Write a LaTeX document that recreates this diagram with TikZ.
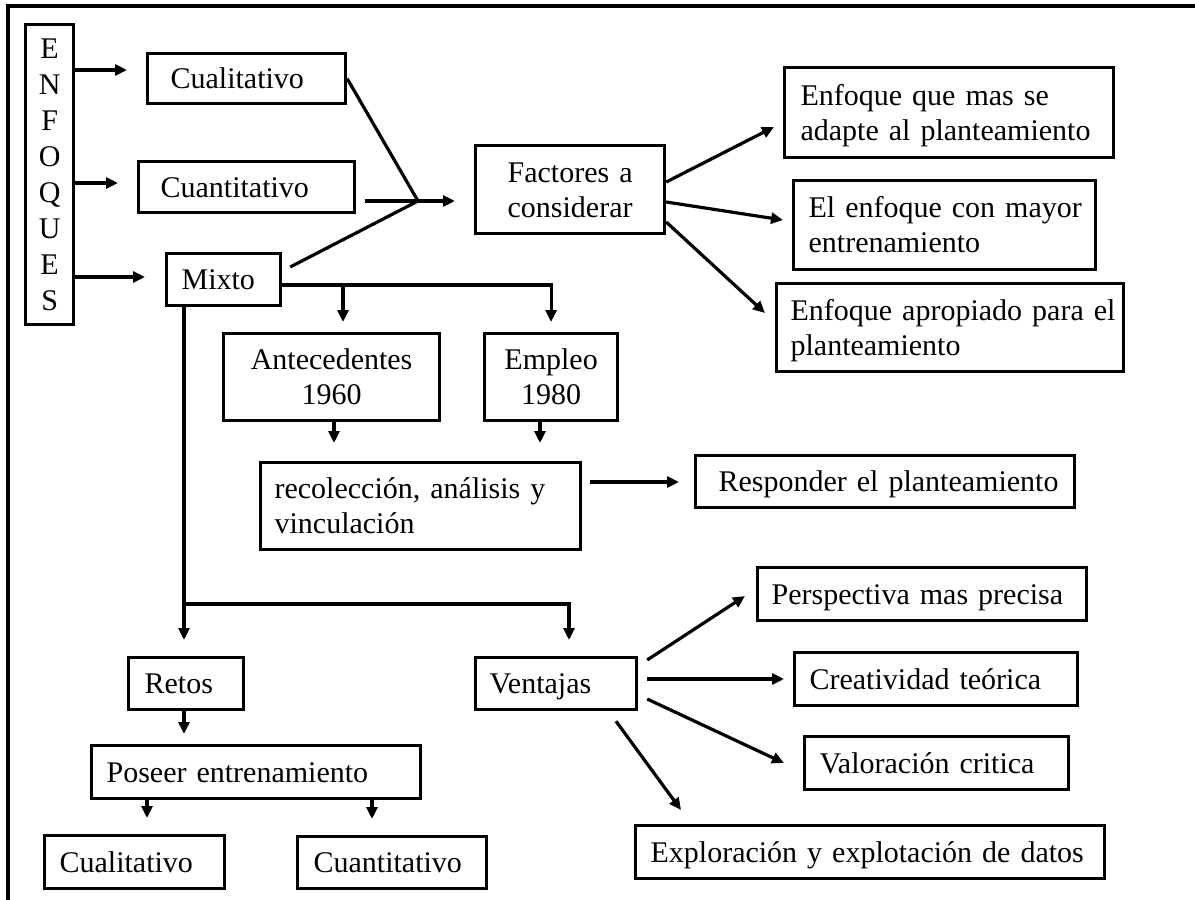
\documentclass[tikz,border=0pt]{standalone}
\usepackage{fontspec}
\setmainfont{Liberation Serif}
\usetikzlibrary{arrows.meta,calc}
\begin{document}
\begin{tikzpicture}[x=1pt,y=-1pt,
  font=\fontsize{30}{35}\selectfont,
  bx/.style={draw, line width=3.2pt, anchor=north west, inner ysep=0pt, align=left},
  cbx/.style={draw, line width=3.2pt, anchor=north west, inner ysep=0pt, inner xsep=0pt, align=center},
  one/.style={text height=20pt, text depth=0pt},
  two/.style={text height=20pt, text depth=35pt},
  arr/.style={line width=3.2pt, -{Triangle[length=12pt,width=11pt]}},
  ln/.style={line width=3.2pt}]
\useasboundingbox (0,0) rectangle (1195,900);
\draw[line width=3.4pt] (8,900) -- (8,6) -- (1195,6);

% left column
\node[cbx, minimum width=48pt, minimum height=300pt, text width=48pt,
      text height=20pt, text depth=252pt, font=\fontsize{30}{36}\selectfont]
      (enf) at (24,23) {E\\N\\F\\O\\Q\\U\\E\\S};
\node[bx, one, minimum width=198pt, minimum height=50pt, text width=152pt, inner xsep=23pt] (cual) at (146,52) {Cualitativo};
\node[bx, one, minimum width=216pt, minimum height=51pt, text width=172pt, inner xsep=22pt] (cuan) at (137,160) {Cuantitativo};
\node[bx, one, minimum width=114pt, minimum height=52pt, text width=84pt, inner xsep=15pt] (mixto) at (165,252) {Mixto};

% factores
\node[cbx, two, minimum width=189pt, minimum height=88pt, text width=189pt] (fact) at (474,144) {Factores a\\considerar};
\node[bx, two, minimum width=329pt, minimum height=90pt, text width=297pt, inner xsep=16pt] (e1) at (783,66) {Enfoque que mas se\\\mbox{adapte al planteamiento}};
\node[bx, two, minimum width=302pt, minimum height=89pt, text width=272pt, inner xsep=15pt] (e2) at (792,179) {\mbox{El enfoque con mayor}\\entrenamiento};
\node[bx, two, minimum width=347pt, minimum height=88pt, text width=319pt, inner xsep=14pt] (e3) at (775,282) {\mbox{Enfoque apropiado para el}\\planteamiento};

% antecedentes / empleo
\node[cbx, two, minimum width=216pt, minimum height=87pt, text width=216pt] (ant) at (222,332) {Antecedentes\\1960};
\node[cbx, two, minimum width=133pt, minimum height=87pt, text width=133pt] (emp) at (483,332) {Empleo\\1980};
\node[bx, two, minimum width=320pt, minimum height=87pt, text width=292pt, inner xsep=14pt] (rec) at (259,461) {recolección, análisis y\\vinculación};
\node[bx, one, minimum width=379pt, minimum height=52pt, text width=333pt, inner xsep=23pt] (resp) at (694,454) {\mbox{Responder el planteamiento}};

% retos
\node[bx, one, minimum width=115pt, minimum height=52pt, text width=83pt, inner xsep=16pt] (retos) at (127,656) {Retos};
\node[bx, one, minimum width=329pt, minimum height=53pt, text width=299pt, inner xsep=15pt] (pos) at (90,744) {Poseer entrenamiento};
\node[bx, one, minimum width=180pt, minimum height=53pt, text width=150pt, inner xsep=15pt] (cual2) at (43,834) {Cualitativo};
\node[bx, one, minimum width=189pt, minimum height=52pt, text width=157pt, inner xsep=16pt] (cuan2) at (296,835) {Cuantitativo};

% ventajas
\node[bx, one, minimum width=161pt, minimum height=52pt, text width=133pt, inner xsep=14pt] (vent) at (474,656) {Ventajas};
\node[bx, one, minimum width=329pt, minimum height=53pt, text width=301pt, inner xsep=14pt] (persp) at (756,566) {Perspectiva mas precisa};
\node[bx, one, minimum width=283pt, minimum height=53pt, text width=253pt, inner xsep=15pt] (crea) at (793,651) {Creatividad teórica};
\node[bx, one, minimum width=264pt, minimum height=53pt, text width=234pt, inner xsep=15pt] (val) at (803,735) {Valoración critica};
\node[bx, one, minimum width=469pt, minimum height=53pt, text width=439pt, inner xsep=15pt] (expl) at (634,824) {Exploración y explotación de datos};

% connectors: enfoques
\coordinate (J) at (418,201);
\draw[arr, shorten >=19pt] (enf.east |- 0,70) -- (cual.west |- 0,70);
\draw[arr, shorten >=19pt] (enf.east |- 0,183) -- (cuan.west |- 0,183);
\draw[arr, shorten >=20pt] (enf.east |- 0,277) -- (mixto.west |- 0,277);
\draw[ln] (cual.east) -- (J);
\draw[ln] ($(cuan.east |- J)+(9,0)$) -- (J);
\draw[ln] ($(mixto.east |- 0,267)+(8,0)$) -- (J);
\draw[arr, shorten >=19pt] (J) -- (fact.west |- J);
\draw[arr] (fact.east |- 0,182) -- ($(e1.west |- 0,127)+(-9,0)$);
\draw[arr] (fact.east |- 0,202) -- ($(e2.west |- 0,220)+(-9,0)$);
\draw[arr] (fact.east |- 0,222) -- ($(e3.west |- 0,313)+(-10,0)$);

% mixto branches
\coordinate (ja) at (343,285);
\draw[arr, shorten >=10pt] (mixto.east |- 0,285) -| (emp.north);
\draw[arr, shorten >=10pt] (ja) -- (ja |- ant.north);
\draw[arr, shorten >=18pt] (ant.south -| 334,0) -- (rec.north -| 334,0);
\draw[arr, shorten >=18pt] (emp.south -| 540,0) -- (rec.north -| 540,0);
\draw[arr, shorten <=8pt, shorten >=15pt] (rec.east |- 0,482) -- (resp.west |- 0,482);

\coordinate (jm) at (184,604);
\draw[arr, shorten >=16pt] (mixto.south -| jm) -- (retos.north -| jm);
\draw[arr, shorten >=16pt] (jm) -| (vent.north -| 569,0);
\draw[arr, shorten >=10pt] (retos.south -| jm) -- (pos.north -| jm);
\draw[arr, shorten >=16pt] (pos.south -| 147,0) -- (cual2.north -| 147,0);
\draw[arr, shorten >=16pt] (pos.south -| 372,0) -- (cuan2.north -| 372,0);

% ventajas arrows
\draw[arr] ($(vent.east |- 0,660)+(9,0)$) -- ($(persp.west |- 0,596)+(-11,0)$);
\draw[arr] ($(vent.east |- 0,679)+(9,0)$) -- ($(crea.west |- 0,679)+(-9,0)$);
\draw[arr] ($(vent.east |- 0,699)+(9,0)$) -- ($(val.west |- 0,763)+(-19,0)$);
\draw[arr] ($(vent.south -| 616,0)+(0,10)$) -- ($(expl.north -| 681,0)+(0,-14)$);
\end{tikzpicture}
\end{document}
